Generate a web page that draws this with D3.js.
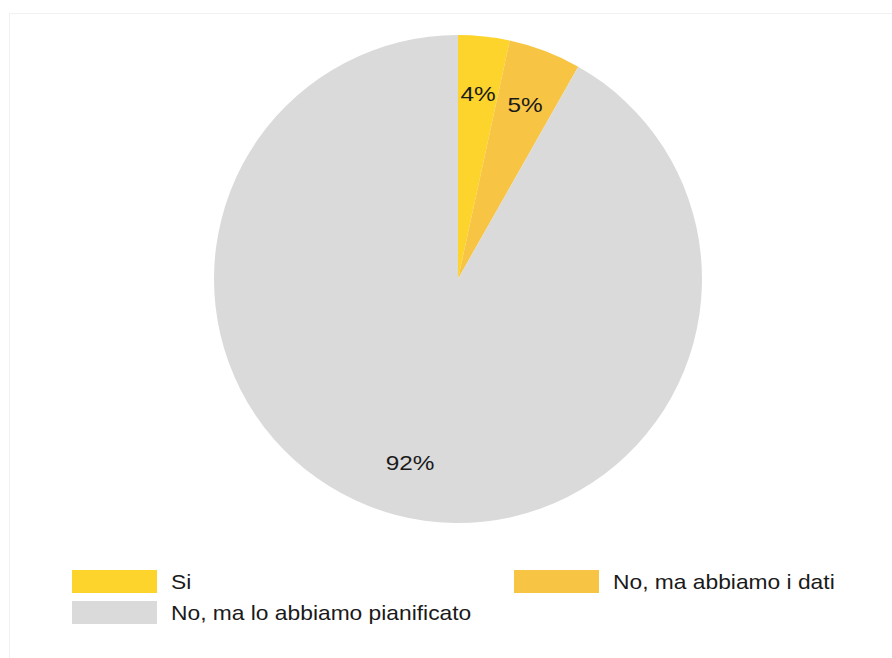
<!DOCTYPE html>
<html><head><meta charset="utf-8">
<script src="https://cdn.jsdelivr.net/npm/d3@7"></script>
<style>html,body{margin:0;padding:0;background:#fff;}svg{display:block;}</style>
</head><body>
<svg id="c" width="892" height="658"></svg>
<script>
const categories = ["Si", "No, ma abbiamo i dati", "No, ma lo abbiamo pianificato"];
const values = [3.4, 4.8, 91.8];
const labels = ["4%", "5%", "92%"];
const colors = ["#FCD42C", "#F7C543", "#DADADA"];

const svg = d3.select("#c");
svg.append("rect").attr("x", 9.5).attr("y", 13.5).attr("width", 900).attr("height", 700)
  .attr("fill", "#fff").attr("stroke", "#f1f1f1");

const cx = 458, cy = 279, R = 244;
const g = svg.append("g").attr("transform", `translate(${cx},${cy})`);
const pie = d3.pie().sort(null).value(d => d.v);
const arcs = pie(categories.map((c, i) => ({c, v: values[i], i})));
const arc = d3.arc().innerRadius(0).outerRadius(R);
const labelArc = d3.arc().innerRadius(188).outerRadius(188);
g.selectAll("path").data(arcs).join("path")
  .attr("d", arc).attr("fill", d => colors[d.data.i]);
g.selectAll("text").data(arcs).join("text")
  .attr("transform", d => { const [x, y] = labelArc.centroid(d); return `translate(${x},${y + 1.5}) scale(1.16,1)`; })
  .attr("text-anchor", "middle").attr("dominant-baseline", "central")
  .attr("font-family", "Liberation Sans, Arial, sans-serif").attr("font-size", 21)
  .attr("fill", "#1a1a1a").text(d => labels[d.data.i]);

const legendPos = [[72, 570], [514, 570], [72, 601]];
const lg = svg.append("g");
categories.forEach((c, i) => {
  const [x, y] = legendPos[i];
  lg.append("rect").attr("x", x).attr("y", y).attr("width", 85).attr("height", 23).attr("fill", colors[i]);
  lg.append("text").attr("transform", `translate(${x + 99},${y + 12}) scale(1.14,1)`)
    .attr("dominant-baseline", "central")
    .attr("font-family", "Liberation Sans, Arial, sans-serif").attr("font-size", 20)
    .attr("fill", "#1a1a1a").text(c);
});
</script>
</body></html>
